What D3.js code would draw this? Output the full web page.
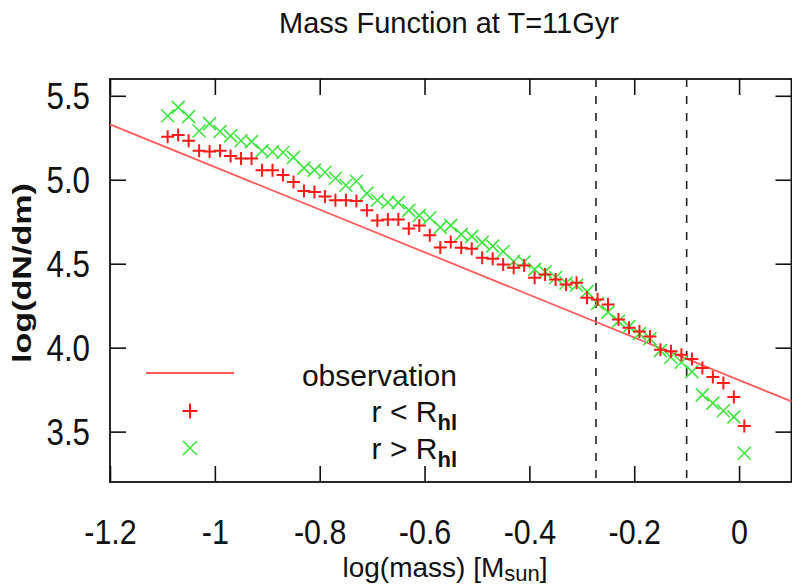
<!DOCTYPE html>
<html lang="en">
<head>
  <meta charset="utf-8">
  <title>Mass Function at T=11Gyr</title>
  <script src="https://d3js.org/d3.v7.min.js"></script>
  <style>
    html, body {
      margin: 0;
      padding: 0;
      background: #fff;
    }
    svg { display: block; font-family: "Liberation Sans", Arial, sans-serif; }
    .tick text { font-size: 36px; fill: #111; }
    .tick line { stroke: #111; stroke-width: 1.6; }
  </style>
</head>
<body>
  <svg id="chart" width="792" height="586"></svg>

  <script>
    // log(mass) of each bin
    const logMass = [
      -1.09, -1.07, -1.05, -1.03, -1.01, -0.99, -0.97, -0.95, -0.93, -0.91,
      -0.89, -0.87, -0.85, -0.83, -0.81, -0.79, -0.77, -0.75, -0.73, -0.71,
      -0.69, -0.67, -0.65, -0.63, -0.61, -0.59, -0.57, -0.55, -0.53, -0.51,
      -0.49, -0.47, -0.45, -0.43, -0.41, -0.39, -0.37, -0.35, -0.33, -0.31,
      -0.29, -0.27, -0.25, -0.23, -0.21, -0.19, -0.17, -0.15, -0.13, -0.11,
      -0.09, -0.07, -0.05, -0.03, -0.01, 0.01
    ];
    // r < R_hl
    const inner = [
      5.256, 5.267, 5.232, 5.172, 5.168, 5.172, 5.142, 5.127, 5.127, 5.057,
      5.057, 5.029, 4.987, 4.933, 4.927, 4.900, 4.878, 4.878, 4.873, 4.818,
      4.758, 4.764, 4.764, 4.709, 4.728, 4.669, 4.597, 4.629, 4.595, 4.589,
      4.536, 4.530, 4.496, 4.476, 4.490, 4.416, 4.436, 4.406, 4.376, 4.386,
      4.297, 4.287, 4.257, 4.167, 4.118, 4.097, 4.067, 3.988, 3.978, 3.958,
      3.933, 3.879, 3.825, 3.789, 3.706, 3.534
    ];
    // r > R_hl
    const outer = [
      5.381, 5.431, 5.376, 5.290, 5.334, 5.287, 5.261, 5.232, 5.227, 5.172,
      5.167, 5.162, 5.133, 5.069, 5.057, 5.045, 5.009, 4.967, 4.991, 4.919,
      4.878, 4.866, 4.864, 4.818, 4.788, 4.774, 4.716, 4.728, 4.675, 4.663,
      4.627, 4.605, 4.573, 4.513, 4.510, 4.466, 4.451, 4.418, 4.385, 4.372,
      4.334, 4.263, 4.212, 4.158, 4.125, 4.084, 4.054, 3.982, 3.943, 3.913,
      3.857, 3.719, 3.670, 3.624, 3.588, 3.371
    ];
    // observation line endpoints
    const obsX = [-1.2, 0.1];
    const obsY = [5.33, 3.68];
    // vertical dashed markers
    const dashX = [-0.273, -0.1];

    const xTicks = [-1.2, -1, -0.8, -0.6, -0.4, -0.2, 0];
    const yTicks = [3.5, 4.0, 4.5, 5.0, 5.5];

    const svg = d3.select('#chart');
    const pL = 110, pR = 791.5, pT = 79, pB = 482;

    const x = d3.scaleLinear().domain([-1.2, 0.1]).range([pL, pR]);
    const y = d3.scaleLinear().domain([3.2, 5.6]).range([pB, pT]);

    const redC = '#ff1a1a', greenC = '#3ee43e', lineC = '#ff5a5a';
    const squeeze = 0.87;

    // title
    svg.append('text')
      .attr('x', 449).attr('y', 33)
      .attr('text-anchor', 'middle')
      .style('font-size', '29px').style('fill', '#111')
      .text('Mass Function at T=11Gyr');

    // axes
    const gB = svg.append('g').attr('transform', `translate(0,${pB})`)
      .call(d3.axisBottom(x).tickValues(xTicks).tickSize(-16)
        .tickFormat(d => String(+d.toFixed(1))));
    gB.selectAll('text').attr('y', 62).attr('dy', null)
      .style('font-size', '35px')
      .attr('transform', `scale(${squeeze},1)`);
    const gT = svg.append('g').attr('transform', `translate(0,${pT})`)
      .call(d3.axisTop(x).tickValues(xTicks).tickSize(-16).tickFormat(''));
    const gL = svg.append('g').attr('transform', `translate(${pL},0)`)
      .call(d3.axisLeft(y).tickValues(yTicks).tickSize(-16)
        .tickFormat(d3.format('.1f')));
    gL.selectAll('text').attr('x', -20 / squeeze).attr('dy', '0.36em')
      .attr('transform', `scale(${squeeze},1)`);
    const gR = svg.append('g').attr('transform', `translate(${pR},0)`)
      .call(d3.axisRight(y).tickValues(yTicks).tickSize(-16).tickFormat(''));
    [gB, gT, gL, gR].forEach(g => g.select('.domain').remove());

    // frame
    svg.append('rect')
      .attr('x', pL).attr('y', pT)
      .attr('width', pR - pL).attr('height', pB - pT)
      .attr('fill', 'none').attr('stroke', '#111').attr('stroke-width', 1.8);

    // dashed lines
    svg.selectAll('line.dash')
      .data(dashX)
      .enter().append('line')
        .attr('class', 'dash')
        .attr('x1', d => x(d)).attr('x2', d => x(d))
        .attr('y1', pT).attr('y2', pB)
        .attr('stroke', '#222').attr('stroke-width', 1.6)
        .attr('stroke-dasharray', '8,9');

    // observation line
    svg.append('line')
      .attr('x1', x(obsX[0])).attr('y1', y(obsY[0]))
      .attr('x2', x(obsX[1])).attr('y2', y(obsY[1]))
      .attr('stroke', lineC).attr('stroke-width', 1.8);

    const plusPath = s => `M${-s},0H${s}M0,${-s}V${s}`;
    const crossPath = s => `M${-s},${-s}L${s},${s}M${-s},${s}L${s},${-s}`;

    // r > R_hl
    svg.append('g').selectAll('path')
      .data(logMass.map((m, i) => [m, outer[i]]))
      .enter().append('path')
        .attr('transform', d => `translate(${x(d[0])},${y(d[1])})`)
        .attr('d', crossPath(6.5))
        .attr('stroke', greenC).attr('stroke-width', 1.6).attr('fill', 'none');

    // r < R_hl
    svg.append('g').selectAll('path')
      .data(logMass.map((m, i) => [m, inner[i]]))
      .enter().append('path')
        .attr('transform', d => `translate(${x(d[0])},${y(d[1])})`)
        .attr('d', plusPath(6.5))
        .attr('stroke', redC).attr('stroke-width', 2).attr('fill', 'none');

    // legend
    const leg = svg.append('g').style('font-size', '30px').style('fill', '#111');
    leg.append('line')
      .attr('x1', 146).attr('x2', 234).attr('y1', 373).attr('y2', 373)
      .attr('stroke', lineC).attr('stroke-width', 1.8);
    leg.append('text').attr('x', 457).attr('y', 386).attr('text-anchor', 'end')
      .text('observation');
    leg.append('path').attr('transform', 'translate(190,411)')
      .attr('d', plusPath(7.5)).attr('stroke', redC).attr('stroke-width', 2);
    leg.append('path').attr('transform', 'translate(190,448)')
      .attr('d', crossPath(7)).attr('stroke', greenC).attr('stroke-width', 1.6);
    [['r < R', 422], ['r > R', 459]].forEach(([t, yy]) => {
      const tx = leg.append('text').attr('x', 457).attr('y', yy).attr('text-anchor', 'end');
      tx.append('tspan').text(t);
      tx.append('tspan').attr('dy', 8).style('font-size', '22px').style('font-weight', 'bold').text('hl');
    });

    // axis labels
    const xl = svg.append('text')
      .attr('x', 445).attr('y', 577).attr('text-anchor', 'middle')
      .style('font-size', '28px').style('fill', '#111');
    xl.append('tspan').text('log(mass) [M');
    xl.append('tspan').attr('dy', 4).style('font-size', '22px').text('sun');
    xl.append('tspan').attr('dy', -4).text(']');

    svg.append('text')
      .attr('transform', 'translate(31,273) rotate(-90)')
      .attr('text-anchor', 'middle')
      .attr('textLength', 180).attr('lengthAdjust', 'spacingAndGlyphs')
      .style('font-size', '25px').style('font-weight', 'bold').style('fill', '#111')
      .text('log(dN/dm)');
  </script>
</body>
</html>
